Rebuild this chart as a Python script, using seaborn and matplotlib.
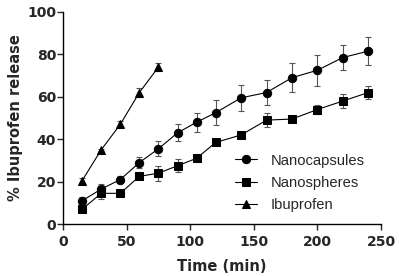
import seaborn as sns
import matplotlib.pyplot as plt
import pandas as pd
import numpy as np

# Data
t_nano = [15, 30, 45, 60, 75, 90, 105, 120, 140, 160, 180, 200, 220, 240]
caps = [11, 16.5, 21, 29, 35.5, 43, 48, 52.5, 59.5, 62, 69, 72.5, 78.5, 81.5]
caps_err = [2, 2.5, 1.5, 2.5, 3.5, 4, 4.5, 6, 6, 5.7, 6.7, 7.4, 5.8, 6.5]
spheres = [7, 14.5, 14.5, 22.5, 24, 27.5, 31, 38.5, 42, 49, 49.5, 54, 58, 62]
spheres_err = [1.5, 2.5, 1, 1, 3.5, 3, 1, 1, 1.5, 3.3, 1, 2, 3.5, 3]
t_ibu = [15, 30, 45, 60, 75]
ibu = [20.5, 35, 47, 62, 74]
ibu_err = [1, 0.5, 1.5, 2, 2]

df = pd.concat([
    pd.DataFrame({'time': t_nano, 'release': caps, 'err': caps_err, 'form': 'Nanocapsules'}),
    pd.DataFrame({'time': t_nano, 'release': spheres, 'err': spheres_err, 'form': 'Nanospheres'}),
    pd.DataFrame({'time': t_ibu, 'release': ibu, 'err': ibu_err, 'form': 'Ibuprofen'}),
])

sns.set_style('ticks')
plt.rcParams['font.family'] = ['Liberation Sans', 'DejaVu Sans']

fig = plt.figure(figsize=(3.99, 2.76), dpi=100)
ax = fig.add_axes([0.158, 0.188, 0.797, 0.769])

markers = {'Nanocapsules': 'o', 'Nanospheres': 's', 'Ibuprofen': '^'}
for form, g in df.groupby('form', sort=False):
    ax.errorbar(g['time'], g['release'], yerr=g['err'], fmt='none',
                ecolor='#555555', elinewidth=0.8, capsize=2.5, capthick=0.8, zorder=1)

sns.lineplot(data=df, x='time', y='release', hue='form', style='form',
             markers=markers, dashes=False, palette=['black'] * 3,
             markersize=6, linewidth=0.8, markeredgecolor='black', ax=ax, zorder=2)

bold = dict(family='DejaVu Sans', fontweight='bold')
ax.set_xlim(0, 250)
ax.set_ylim(0, 100)
ax.set_xticks([0, 50, 100, 150, 200, 250])
ax.set_yticks([0, 20, 40, 60, 80, 100])
ax.set_xlabel('Time (min)', fontsize=10.5, labelpad=7, **bold)
ax.set_ylabel('% Ibuprofen release', fontsize=10.5, labelpad=3, **bold)
ax.tick_params(width=1, length=4)
ax.tick_params(axis='x', pad=4)
ax.tick_params(axis='y', pad=1)
for lbl in ax.get_xticklabels() + ax.get_yticklabels():
    lbl.set_family('DejaVu Sans')
    lbl.set_fontweight('bold')
    lbl.set_fontsize(10)
sns.despine(ax=ax)
for s in ['left', 'bottom']:
    ax.spines[s].set_linewidth(1)
    ax.spines[s].set_color('black')

ax.legend(title=None, frameon=False, loc='center left', bbox_to_anchor=(0.5, 0.195),
          fontsize=10.6, handlelength=1.5, labelspacing=0.55, handletextpad=0.9)

fig.savefig('out.png', dpi=100)
